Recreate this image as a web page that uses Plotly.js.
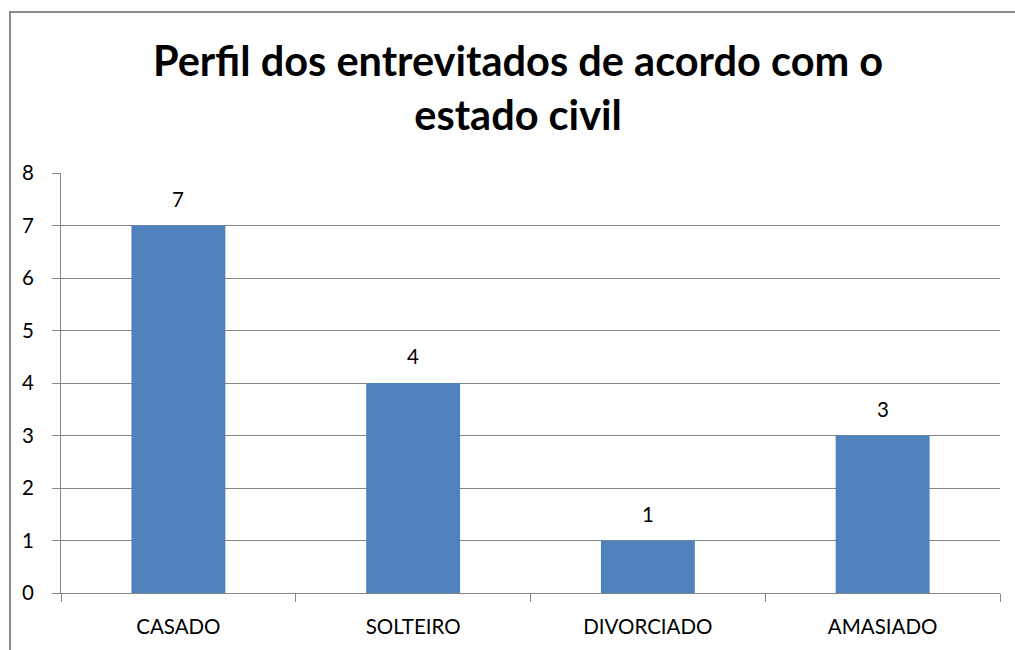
<!DOCTYPE html>
<html>
<head>
<meta charset="utf-8">
<script src="https://cdn.plot.ly/plotly-3.0.1.min.js"></script>
<style>html,body{margin:0;padding:0;background:#fff;}#chart{width:1015px;height:650px;}</style>
</head>
<body>
<div id="chart"></div>
<script>
const categories = ["CASADO", "SOLTEIRO", "DIVORCIADO", "AMASIADO"];
const values = [7, 4, 1, 3];
const titleText = "Perfil dos entrevitados de acordo com o<br>estado civil";

const FONT = "Lato, 'Open Sans', sans-serif";

const trace = {
  type: "bar",
  x: categories,
  y: values,
  marker: {color: "#4F81BD", line: {width: 0}},
  width: 0.4,
  hoverinfo: "x+y"
};

const labelAnnotations = categories.map((c, i) => ({
  x: c, y: values[i], xref: "x", yref: "y",
  text: String(values[i]),
  showarrow: false,
  yanchor: "middle",
  yshift: 27,
  font: {family: FONT, size: 20.5, color: "#000"}
}));

const layout = {
  width: 1015,
  height: 650,
  margin: {l: 61, r: 15, t: 173, b: 57},
  paper_bgcolor: "#fff",
  plot_bgcolor: "#fff",
  showlegend: false,
  annotations: [{
    text: "<b>" + titleText + "</b>",
    xref: "paper", yref: "paper",
    x: 0.487, y: 1.205,
    xanchor: "center", yanchor: "middle",
    showarrow: false,
    align: "center",
    font: {family: FONT, size: 41.5, color: "#000"}
  }].concat(labelAnnotations),
  xaxis: {
    type: "category",
    tickson: "boundaries",
    ticks: "outside",
    ticklen: 8,
    tickcolor: "#868686",
    showline: true,
    linecolor: "#868686",
    linewidth: 1,
    showgrid: false,
    tickfont: {family: FONT, size: 20.5, color: "#000"},
    ticklabelstandoff: 15
  },
  yaxis: {
    range: [0, 8],
    dtick: 1,
    ticks: "outside",
    ticklen: 8,
    tickcolor: "#868686",
    showline: true,
    linecolor: "#868686",
    linewidth: 1,
    showgrid: true,
    gridcolor: "#868686",
    gridwidth: 1,
    zeroline: false,
    tickfont: {family: FONT, size: 20.5, color: "#000"},
    ticklabelstandoff: 14
  },
  shapes: [{
    type: "rect", xref: "paper", yref: "paper",
    x0: -0.0543, x1: 1.03, y0: -0.2, y1: 1.3833,
    line: {color: "#8a8a8a", width: 2},
    layer: "below"
  }]
};

Plotly.newPlot("chart", [trace], layout, {displayModeBar: false, staticPlot: true});
</script>
</body>
</html>
